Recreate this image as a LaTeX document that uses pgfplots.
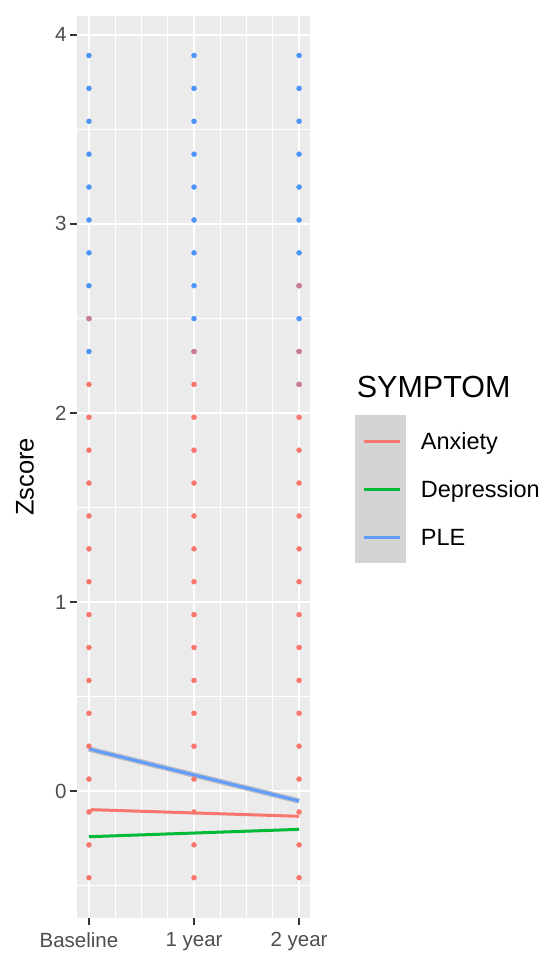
\documentclass[border=0pt]{standalone}
\usepackage{pgfplots}
\pgfplotsset{compat=1.18}
\usepackage{fontspec}
\setmainfont{Liberation Sans}
\definecolor{anx}{HTML}{F8766D}
\definecolor{dep}{HTML}{00BA38}
\definecolor{ple}{HTML}{619CFF}
\definecolor{plept}{HTML}{4C94F8}
\definecolor{panel}{HTML}{EBEBEB}
\definecolor{keygrey}{HTML}{D4D4D4}
\definecolor{ticktext}{HTML}{4D4D4D}
\definecolor{tickmark}{HTML}{333333}
\begin{document}
\begin{tikzpicture}
\useasboundingbox (0,0) rectangle (547bp,954bp);
\begin{axis}[
 at={(77bp,36bp)}, anchor=south west,
 scale only axis, width=233bp, height=902bp,
 xmin=-0.114, xmax=2.104, ymin=-0.672, ymax=4.10,
 axis background/.style={fill=panel},
 axis line style={draw=none},
 tick align=outside, xtick pos=bottom, ytick pos=left,
 major tick length=7bp,
 minor tick length=0pt,
 tick style={tickmark, line width=1.3bp},
 xtick={0,1,2}, xticklabels={\raisebox{-7bp}{\makebox[0pt][c]{\hspace{-20bp}Baseline}},1 year,2 year},
 extra x ticks={0.5,1.5}, extra x tick labels={},
 extra x tick style={major tick length=0pt},
 minor xtick={0.25,0.75,1.25,1.75},
 ytick={0,1,2,3,4},
 minor ytick={-0.5,0.5,1.5,2.5,3.5},
 grid=both,
 major grid style={white, line width=1.8bp},
 minor grid style={white, line width=0.9bp},
 /pgf/number format/assume math mode=true,
 tick label style={font=\fontsize{20.5bp}{24bp}\selectfont, text=ticktext},
 xticklabel style={yshift=-4bp},
 ylabel={Zscore},
 ylabel style={font=\fontsize{25.5bp}{30bp}\selectfont, at={(axis description cs:-0.223,0.489)}, anchor=center},
 legend style={at={(1.201,0.6175)}, anchor=north west, draw=none, fill=none,
   inner sep=0pt, outer sep=0pt, row sep=0pt,
   nodes={inner sep=0pt, text depth=0pt},
   font=\fontsize{23.5bp}{28bp}\selectfont},
 legend cell align=left,
 legend image code/.code={\fill[keygrey,overlay] (0bp,-24.3bp) rectangle (48bp,24.3bp);
   \path[draw=none,fill=none] (0bp,-24bp) rectangle (64bp,24bp);
   \draw[#1,line width=3bp] (7bp,0bp) -- (43bp,0bp);},
]
\addlegendimage{legend image code/.code={\path[draw=none,fill=none] (0bp,-28bp) -- (0bp,28bp);
  \node[overlay,anchor=west,inner sep=0pt,font=\fontsize{30.5bp}{36bp}\selectfont,text=black] at (0bp,2bp) {SYMPTOM};}}
\addlegendentry{}

% PLE points
\addplot[only marks, color=plept, mark=*, mark size=2.5bp, mark options={draw=none, fill=plept}, forget plot] coordinates {
(0,2.325) (0,2.499) (0,2.673) (0,2.847) (0,3.021) (0,3.195) (0,3.369) (0,3.543) (0,3.717) (0,3.891)
(1,2.325) (1,2.499) (1,2.673) (1,2.847) (1,3.021) (1,3.195) (1,3.369) (1,3.543) (1,3.717) (1,3.891)
(2,2.151) (2,2.325) (2,2.499) (2,2.673) (2,2.847) (2,3.021) (2,3.195) (2,3.369) (2,3.543) (2,3.717) (2,3.891)
};
% Anxiety points
\addplot[only marks, color=anx, mark=*, mark size=2.5bp, mark options={draw=none, fill=anx}, forget plot] coordinates {
(0,-0.459) (0,-0.285) (0,-0.111) (0,0.063) (0,0.237) (0,0.411) (0,0.585) (0,0.759) (0,0.933) (0,1.107) (0,1.281) (0,1.455) (0,1.629) (0,1.803) (0,1.977) (0,2.151)
(1,-0.459) (1,-0.285) (1,-0.111) (1,0.063) (1,0.237) (1,0.411) (1,0.585) (1,0.759) (1,0.933) (1,1.107) (1,1.281) (1,1.455) (1,1.629) (1,1.803) (1,1.977) (1,2.151)
(2,-0.459) (2,-0.285) (2,-0.111) (2,0.063) (2,0.237) (2,0.411) (2,0.585) (2,0.759) (2,0.933) (2,1.107) (2,1.281) (2,1.455) (2,1.629) (2,1.803) (2,1.977)
};
\addplot[only marks, color=anx, mark=*, mark size=2.5bp, mark options={draw=none, fill=anx, fill opacity=0.7}, forget plot] coordinates {
(0,2.499) (1,2.325) (2,2.151) (2,2.325) (2,2.673)
};
% SE band of PLE
\addplot[black!25, line width=5.5bp, forget plot] coordinates {(0,0.222) (2,-0.053)};
% fitted lines
\addplot[anx, line width=3bp] coordinates {(0,-0.116) (0.03,-0.099) (2,-0.134)};
\addlegendentry{Anxiety}
\addplot[dep, line width=3bp] coordinates {(0,-0.242) (2,-0.203)};
\addlegendentry{Depression}
\addplot[ple, line width=3bp] coordinates {(0,0.222) (2,-0.053)};
\addlegendentry{PLE}
\end{axis}
\end{tikzpicture}
\end{document}
